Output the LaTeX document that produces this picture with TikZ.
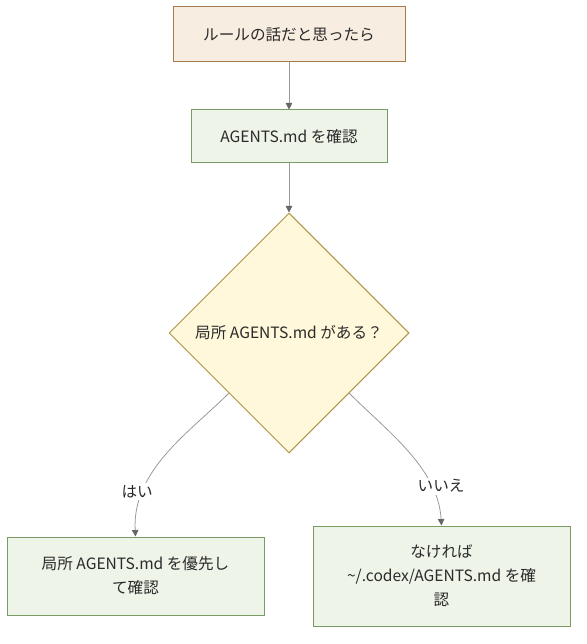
\documentclass[tikz,border=0pt]{standalone}
\usepackage{fontspec}
\setmainfont{Noto Sans CJK JP}
\usetikzlibrary{shapes.geometric,arrows.meta}
\definecolor{txt}{HTML}{2A2A2A}
\definecolor{rulefill}{HTML}{F7EDE0}
\definecolor{ruleline}{HTML}{A47A4E}
\definecolor{okfill}{HTML}{EEF4E8}
\definecolor{okline}{HTML}{7A9B64}
\definecolor{askfill}{HTML}{FFF8DA}
\definecolor{askline}{HTML}{AE9444}
\definecolor{linkgray}{HTML}{999999}
\definecolor{tipgray}{HTML}{666666}

\begin{document}
\begin{tikzpicture}[x=1pt,y=-1pt,
  box/.style={draw,line width=1pt,text=txt,font=\fontsize{15.6}{24}\selectfont,align=center,inner sep=0pt},
  okbox/.style={box,draw=okline,fill=okfill,minimum width=257pt},
  link/.style={draw=linkgray,line width=0.8pt,-{Triangle[length=6.5pt,width=6.5pt,color=tipgray]}},
  answer/.style={fill=white,text=txt,font=\fontsize{15.6}{24}\selectfont,inner sep=2pt}]
\useasboundingbox (0,0) rectangle (586,644);

\node[box,draw=ruleline,fill=rulefill,minimum width=232pt,minimum height=55pt] (start) at (289,34.5) {ルールの話だと思ったら};
\node[box,draw=okline,fill=okfill,minimum width=196pt,minimum height=53pt] (check) at (289,136.5) {AGENTS.md を確認};
\node[box,draw=askline,fill=askfill,diamond,aspect=1,minimum size=240pt] (ask) at (289,333) {局所 AGENTS.md がある？};
\node[okbox,minimum height=78pt] (local) at (135.5,576) {局所 AGENTS.md を優先し\\て確認};
\node[okbox,minimum height=100pt] (home) at (441.5,576) {なければ\\\textasciitilde/.codex/AGENTS.md を確\\認};

\draw[link] (start) -- (check);
\draw[link] (check) -- (ask);
\draw[link] (ask.225) .. controls (190,432) and (132,470) .. (local.north) node[answer,pos=0.75,xshift=-6pt] {はい};
\draw[link] (ask.315) .. controls (388,432) and (438,468) .. (home.north) node[answer,pos=0.75,xshift=10pt] {いいえ};

\end{tikzpicture}
\end{document}
